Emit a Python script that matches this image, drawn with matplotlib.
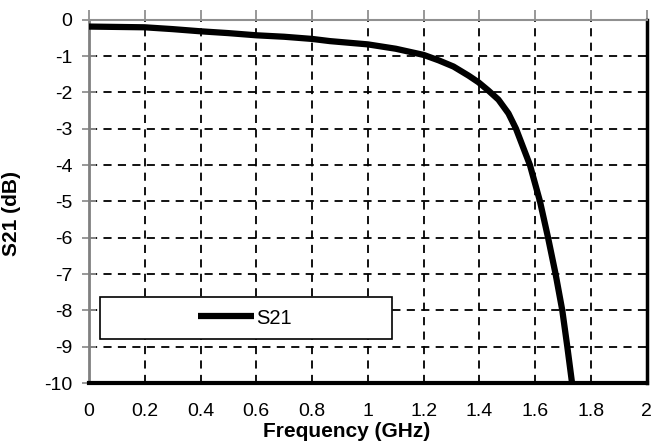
import matplotlib
matplotlib.use("Agg")
import matplotlib.pyplot as plt
from matplotlib.patches import Rectangle

plt.rcParams['font.family'] = ['Liberation Sans', 'DejaVu Sans']
plt.rcParams['axes.unicode_minus'] = False

# S21 readings
freq_ghz = [0.0, 0.1, 0.2, 0.3, 0.4, 0.5, 0.6, 0.7, 0.8, 0.864, 1.0, 1.1,
            1.2, 1.254, 1.307, 1.361, 1.396, 1.432, 1.468, 1.504, 1.531,
            1.555, 1.581, 1.617, 1.646, 1.673, 1.697, 1.715, 1.732]
s21_db = [-0.19, -0.2, -0.21, -0.26, -0.32, -0.37, -0.43, -0.47, -0.53, -0.59,
          -0.68, -0.80, -0.97, -1.12, -1.29, -1.54, -1.72, -1.95, -2.2, -2.58,
          -3.0, -3.48, -4.0, -5.0, -6.0, -7.0, -8.0, -9.0, -10.0]
x_ticks = [0, 0.2, 0.4, 0.6, 0.8, 1, 1.2, 1.4, 1.6, 1.8, 2]
x_labels = ["0", "0.2", "0.4", "0.6", "0.8", "1", "1.2", "1.4", "1.6", "1.8", "2"]
y_ticks = list(range(-10, 1))

fig = plt.figure(figsize=(6.54, 4.47), dpi=100)
ax = fig.add_axes([0.136, 0.143, 0.853, 0.813])

ax.plot(freq_ghz, s21_db, color='black', lw=4.5, label='S21',
        solid_capstyle='butt', solid_joinstyle='round', zorder=3)

ax.set_xlim(0, 2)
ax.set_ylim(-10, 0)
ax.set_xticks(x_ticks)
ax.set_xticklabels(x_labels)
ax.set_yticks(y_ticks)

# dashed grid, skipping the border lines
for xv in x_ticks[1:-1]:
    ax.axvline(xv, color='black', lw=1.3, ls=(0, (4.5, 3.5)), zorder=1)
for yv in y_ticks[1:-1]:
    ax.axhline(yv, color='black', lw=1.3, ls=(0, (4.5, 3.5)), zorder=1)

# axis at y=0 sits on top: ticks there, labels at the bottom
ax.tick_params(axis='x', which='both', bottom=False, top=True, direction='out',
               length=7, width=1.3, color='#909090', labelsize=14, pad=7)
ax.tick_params(axis='y', direction='inout', length=10, width=1.3, color='#909090',
               labelsize=14, pad=7)

ax.spines['left'].set_color('#808080')
ax.spines['left'].set_linewidth(2)
ax.spines['top'].set_color('#909090')
ax.spines['top'].set_linewidth(1.5)
ax.spines['right'].set_color('black')
ax.spines['right'].set_linewidth(2.5)
ax.spines['bottom'].set_color('black')
ax.spines['bottom'].set_linewidth(3)

ax.set_xlabel('Frequency (GHz)', fontsize=15, fontweight='bold')
ax.set_ylabel('S21 (dB)', fontsize=15, fontweight='bold')
ax.xaxis.set_label_coords(0.462, -0.106)
ax.yaxis.set_label_coords(-0.121, 0.466)

# legend box
ax.add_patch(Rectangle((0.0197, 0.121), 0.523, 0.116, transform=ax.transAxes,
                       facecolor='white', edgecolor='black', lw=1.2, zorder=4))
leg = ax.legend(loc='center', bbox_to_anchor=(0.28, 0.179), fontsize=14.5,
                handlelength=2.75, handletextpad=0.15, frameon=False,
                borderpad=0, borderaxespad=0)
leg.set_zorder(5)

fig.savefig('out.png', dpi=100)
